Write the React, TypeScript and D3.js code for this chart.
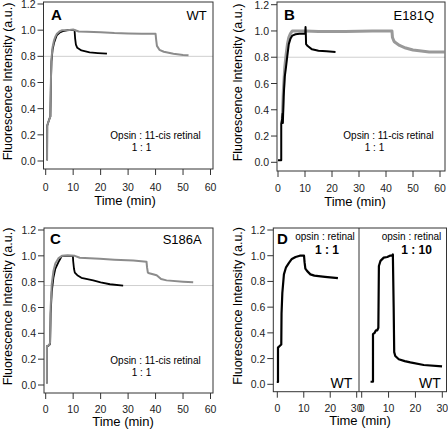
import React from "react";
import * as d3 from "d3";

type Pt = [number, number];

// ---- data (time in min, fluorescence a.u.) ----
const aBlack: Pt[] = [[0.3,0.01],[0.5,0.01],[0.55,0.27],[1.0,0.30],[1.5,0.33],[1.7,0.34],[1.9,0.60],[2.1,0.76],[2.5,0.85],[3,0.90],[3.5,0.93],[4,0.96],[5,0.98],[6,0.99],[8,1.0],[10.5,1.0],[10.7,0.94],[11,0.89],[11.5,0.865],[13,0.845],[16,0.83],[19,0.825],[22.3,0.82]];
const aGrey: Pt[] = [[0.3,0.01],[0.5,0.01],[0.55,0.27],[1.0,0.30],[1.5,0.33],[1.7,0.34],[1.9,0.62],[2.1,0.78],[2.5,0.87],[3,0.92],[3.5,0.95],[4,0.97],[5,0.99],[6,1.0],[8,1.0],[10,1.005],[12,0.99],[15,0.988],[20,0.984],[25,0.978],[30,0.975],[35,0.973],[40,0.972],[40.2,0.93],[40.5,0.88],[41.4,0.85],[43,0.835],[46.5,0.82],[50,0.81],[52,0.808]];
const bBlack: Pt[] = [[0,0.015],[1.2,0.015],[1.2,0.295],[1.5,0.33],[1.7,0.37],[1.8,0.30],[2.1,0.50],[2.5,0.65],[3.0,0.73],[3.4,0.80],[4,0.90],[4.6,0.94],[5.3,0.965],[6.5,0.975],[8,0.978],[10.1,0.978],[10.2,1.03],[10.3,0.98],[10.4,0.90],[11,0.885],[12.6,0.86],[15,0.85],[18,0.845],[21.3,0.84]];
const bGrey: Pt[] = [[1.6,0.33],[2.0,0.55],[2.5,0.72],[3,0.82],[3.5,0.90],[4,0.95],[4.6,0.98],[5.3,1.0],[8,1.0],[10,1.0],[15,0.995],[20,0.995],[25,0.995],[30,0.998],[35,1.0],[40,1.0],[42.2,1.0],[42.4,0.95],[43.0,0.92],[43.6,0.91],[45,0.89],[47.3,0.87],[50,0.855],[52.3,0.85],[56,0.84],[61.6,0.84]];
const cBlack: Pt[] = [[0.2,0.018],[0.45,0.018],[0.45,0.30],[0.7,0.30],[1.3,0.31],[1.6,0.32],[1.8,0.55],[2.2,0.72],[2.8,0.83],[3.5,0.90],[4.6,0.95],[5.9,1.0],[8,1.0],[9.9,1.0],[10.0,0.96],[10.3,0.90],[10.6,0.87],[11.5,0.85],[13,0.83],[17.3,0.81],[20,0.795],[23.4,0.78],[28.2,0.77]];
const cGrey: Pt[] = [[0.2,0.018],[0.45,0.018],[0.45,0.30],[1.3,0.31],[1.6,0.33],[1.8,0.60],[2.2,0.78],[2.8,0.88],[3.5,0.94],[4.6,0.98],[5.9,1.0],[8,1.005],[10.6,1.0],[12.4,0.985],[19.7,0.977],[25,0.97],[31.9,0.964],[36.7,0.955],[36.9,0.91],[37.2,0.87],[37.7,0.865],[40.4,0.85],[42,0.82],[44,0.81],[50,0.80],[53.7,0.795]];
const dLeft: Pt[] = [[-0.2,0.018],[0.26,0.018],[0.26,0.285],[1.0,0.30],[1.5,0.31],[1.6,0.55],[1.9,0.71],[2.5,0.855],[3.3,0.91],[4.4,0.945],[5.5,0.975],[6.9,0.99],[8.5,1.0],[10.1,1.0],[10.3,0.95],[10.6,0.90],[11.3,0.88],[12.5,0.855],[14,0.845],[18,0.835],[22.9,0.825]];
const dRight: Pt[] = [[3.3,0.02],[4.2,0.02],[4.2,0.39],[4.8,0.40],[5.3,0.42],[5.8,0.42],[6.2,0.44],[6.4,0.92],[7.0,0.96],[8.2,0.985],[9.5,0.99],[10.5,1.0],[11.3,1.0],[11.6,1.01],[11.9,0.60],[12.1,0.25],[12.5,0.22],[13.8,0.195],[16,0.18],[18.1,0.17],[23.1,0.15],[29.9,0.14]];

const yTicks = [0, 0.2, 0.4, 0.6, 0.8, 1.0, 1.2];
const xTicksWide = [0, 10, 20, 30, 40, 50, 60];
const xTicksNarrow = [0, 10, 20, 30];

const FONT = "'Liberation Sans', Arial, sans-serif";
const FRAME = "#333";
const GREY = "#8c8c8c";

type Frame = { x0: number; y0: number; x1: number; y1: number };

function YAxis({ f, y }: { f: Frame; y: d3.ScaleLinear<number, number> }) {
  return (
    <g>
      {yTicks.map((t) => (
        <g key={t}>
          <line x1={f.x0 - 6} x2={f.x0} y1={y(t)} y2={y(t)} stroke={FRAME} strokeWidth={1} />
          <text x={f.x0 - 8} y={y(t)} textAnchor="end" dominantBaseline="central" fontSize={10.5} fill="#222">
            {d3.format(".1f")(t)}
          </text>
        </g>
      ))}
    </g>
  );
}

function XAxis({ f, x, ticks, labelDy }: { f: Frame; x: d3.ScaleLinear<number, number>; ticks: number[]; labelDy: number }) {
  return (
    <g>
      {ticks.map((t) => (
        <g key={t}>
          <line x1={x(t)} x2={x(t)} y1={f.y1} y2={f.y1 + 6} stroke={FRAME} strokeWidth={1} />
          <text x={x(t)} y={f.y1 + labelDy} textAnchor="middle" dominantBaseline="central" fontSize={10.5} fill="#222">
            {t}
          </text>
        </g>
      ))}
    </g>
  );
}

function Curve({ data, x, y, color, width }: { data: Pt[]; x: any; y: any; color: string; width: number }) {
  const gen = d3.line<Pt>().x((d) => x(d[0])).y((d) => y(d[1]));
  return <path d={gen(data) || ""} fill="none" stroke={color} strokeWidth={width} strokeLinejoin="round" />;
}

type PanelProps = {
  f: Frame;
  xr: [number, number];
  yr: [number, number];
  letter: string;
  letterX: number;
  letterY: number;
  name: string;
  nameX: number;
  nameY: number;
  refLine: number;
  curves: { data: Pt[]; color: string; width: number }[];
  labelDy: number;
  timeY: number;
  timeX: number;
  yLabelX: number;
  noteX: number;
  noteY: number;
};

function Panel(p: PanelProps) {
  const x = d3.scaleLinear().domain([0, 60]).range(p.xr);
  const y = d3.scaleLinear().domain([0, 1.2]).range(p.yr);
  const f = p.f;
  return (
    <g>
      <line x1={f.x0} x2={f.x1} y1={y(p.refLine)} y2={y(p.refLine)} stroke="#cfcfcf" strokeWidth={1} />
      {p.curves.map((c, i) => (
        <Curve key={i} data={c.data} x={x} y={y} color={c.color} width={c.width} />
      ))}
      <rect x={f.x0} y={f.y0} width={f.x1 - f.x0} height={f.y1 - f.y0} fill="none" stroke={FRAME} strokeWidth={1} />
      <YAxis f={f} y={y} />
      <XAxis f={f} x={x} ticks={xTicksWide} labelDy={p.labelDy} />
      <text x={p.letterX} y={p.letterY} fontSize={15} fontWeight="bold">{p.letter}</text>
      <text x={p.nameX} y={p.nameY} fontSize={13} textAnchor="end">{p.name}</text>
      <text x={p.noteX} y={p.noteY} fontSize={10} textAnchor="middle">Opsin : 11-cis retinal</text>
      <text x={p.noteX - 14} y={p.noteY + 12} fontSize={10} textAnchor="middle">1 : 1</text>
      <text x={p.timeX} y={p.timeY} fontSize={13} textAnchor="middle">Time (min)</text>
      <text transform={`translate(${p.yLabelX},${(f.y0 + f.y1) / 2 - 4}) rotate(-90)`} fontSize={12.5} textAnchor="middle" dominantBaseline="central">
        Fluorescence Intensity (a.u.)
      </text>
    </g>
  );
}

function PanelD() {
  const f: Frame = { x0: 273.3, y0: 228, x1: 446.5, y1: 391.7 };
  const div = 359;
  const xl = d3.scaleLinear().domain([0, 30]).range([277.3, 356.7]);
  const xr = d3.scaleLinear().domain([0, 30]).range([361.7, 442.3]);
  const y = d3.scaleLinear().domain([0, 1.2]).range([384.3, 230]);
  return (
    <g>
      <Curve data={dLeft} x={xl} y={y} color="#000" width={2.2} />
      <Curve data={dRight} x={xr} y={y} color="#000" width={2.2} />
      <rect x={f.x0} y={f.y0} width={f.x1 - f.x0} height={f.y1 - f.y0} fill="none" stroke={FRAME} strokeWidth={1} />
      <line x1={div} x2={div} y1={f.y0} y2={f.y1} stroke={FRAME} strokeWidth={1} />
      <YAxis f={f} y={y} />
      <XAxis f={f} x={xl} ticks={xTicksNarrow} labelDy={16} />
      <XAxis f={f} x={xr} ticks={xTicksNarrow} labelDy={16} />
      <text x={277} y={244} fontSize={15} fontWeight="bold">D</text>
      <text x={325} y={240} fontSize={10} textAnchor="middle">opsin : retinal</text>
      <text x={327} y={253.5} fontSize={12} fontWeight="bold" textAnchor="middle">1 : 1</text>
      <text x={411.5} y={240} fontSize={10} textAnchor="middle">opsin : retinal</text>
      <text x={416.5} y={253.5} fontSize={12} fontWeight="bold" textAnchor="middle">1 : 10</text>
      <text x={341.5} y={388} fontSize={14} textAnchor="middle">WT</text>
      <text x={430} y={388} fontSize={14} textAnchor="middle">WT</text>
      <text x={360} y={425} fontSize={13} textAnchor="middle">Time (min)</text>
      <text transform={`translate(238,${(f.y0 + f.y1) / 2 - 4}) rotate(-90)`} fontSize={12.5} textAnchor="middle" dominantBaseline="central">
        Fluorescence Intensity (a.u.)
      </text>
    </g>
  );
}

export default function App() {
  return (
    <svg width={448} height={433} style={{ position: "absolute", left: 0, top: 0, background: "#fff" }} fontFamily={FONT}>
      <Panel
        f={{ x0: 43.5, y0: 2, x1: 213, y1: 169 }}
        xr={[45.7, 210.5]} yr={[161, 4]}
        letter="A" letterX={51} letterY={20}
        name="WT" nameX={206.7} nameY={19.5}
        refLine={0.8}
        curves={[{ data: aBlack, color: "#000", width: 1.8 }, { data: aGrey, color: GREY, width: 2 }]}
        labelDy={18} timeY={205} timeX={125} yLabelX={8}
        noteX={155.5} noteY={138.5}
      />
      <Panel
        f={{ x0: 277, y0: 2, x1: 445, y1: 171 }}
        xr={[278, 440]} yr={[162.3, 4.7]}
        letter="B" letterX={284} letterY={20}
        name="E181Q" nameX={434} nameY={19.5}
        refLine={0.8}
        curves={[{ data: bGrey, color: "#999", width: 3 }, { data: bBlack, color: "#000", width: 2 }]}
        labelDy={17} timeY={206} timeX={355} yLabelX={238}
        noteX={388.5} noteY={138.5}
      />
      <Panel
        f={{ x0: 44, y0: 228, x1: 213, y1: 393 }}
        xr={[45.7, 210.5]} yr={[385, 230]}
        letter="C" letterX={50} letterY={244}
        name="S186A" nameX={201.7} nameY={243.5}
        refLine={0.77}
        curves={[{ data: cBlack, color: "#000", width: 1.8 }, { data: cGrey, color: GREY, width: 2 }]}
        labelDy={16} timeY={426} timeX={123} yLabelX={8}
        noteX={155.5} noteY={363.5}
      />
      <PanelD />
    </svg>
  );
}
